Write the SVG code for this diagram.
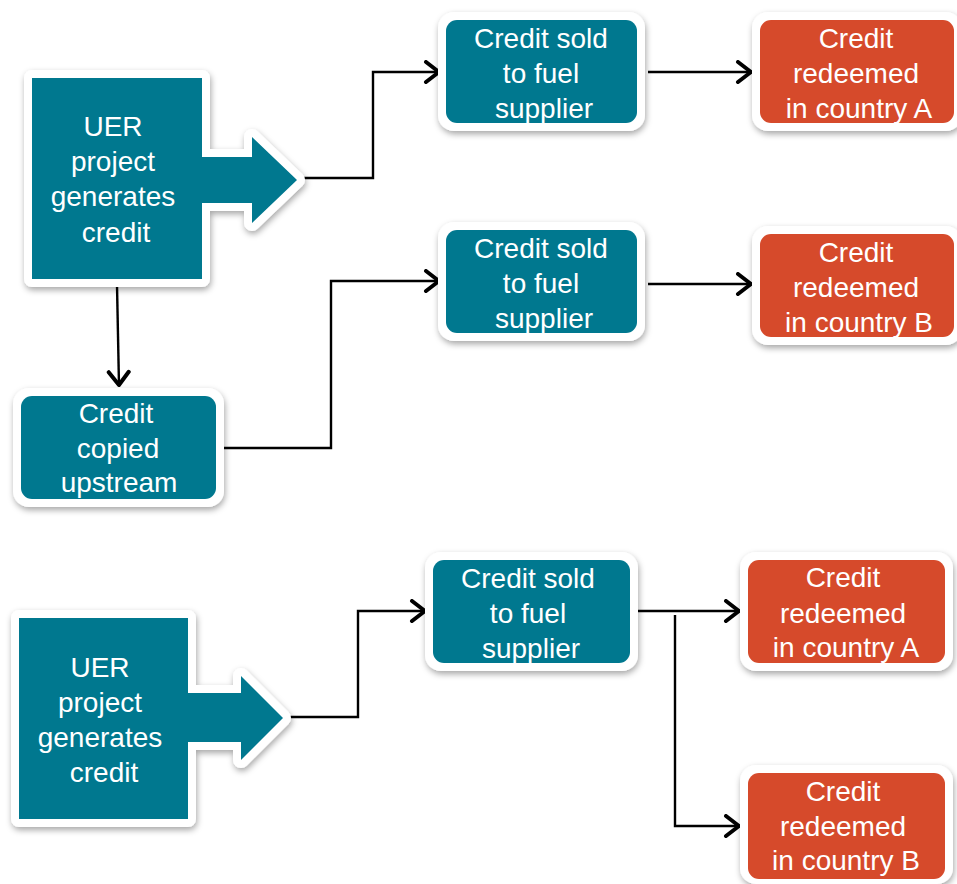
<svg xmlns="http://www.w3.org/2000/svg" width="957" height="884" viewBox="0 0 957 884">
<defs>
<filter id="sh" x="-20%" y="-20%" width="140%" height="140%">
<feDropShadow dx="1" dy="3" stdDeviation="3" flood-color="#000" flood-opacity="0.35"/>
</filter>
<marker id="ah" markerUnits="userSpaceOnUse" markerWidth="30" markerHeight="30" refX="21" refY="12" orient="auto">
<path d="M7,2 L20,12 L7,22" fill="none" stroke="#000" stroke-width="4" stroke-linecap="round" stroke-linejoin="round"/>
</marker>
</defs>
<style>
.teal{fill:#00788F}
.orange{fill:#D64A2B}
.frame{fill:#fff;filter:url(#sh)}
.shape{stroke:#fff;stroke-width:16;stroke-linejoin:round;paint-order:stroke;filter:url(#sh)}
.t{font-family:"Liberation Sans",Arial,sans-serif;font-size:28px;fill:#fff;text-anchor:middle}
.c{fill:none;stroke:#000;stroke-width:2.4}
</style>
<rect width="957" height="884" fill="#fff"/>

<g id="connectors">
<polyline class="c" points="300,178 373,178 373,72 440,72" marker-end="url(#ah)"/>
<line class="c" x1="648" y1="72" x2="752" y2="72" marker-end="url(#ah)"/>
<line class="c" x1="117" y1="285" x2="119" y2="386" marker-end="url(#ah)"/>
<polyline class="c" points="222,448 331,448 331,281 440,281" marker-end="url(#ah)"/>
<line class="c" x1="648" y1="284" x2="752" y2="284" marker-end="url(#ah)"/>
<polyline class="c" points="287,717 358,717 358,611 426,611" marker-end="url(#ah)"/>
<line class="c" x1="635" y1="611" x2="740" y2="611" marker-end="url(#ah)"/>
<polyline class="c" points="675,615 675,826 740,826" marker-end="url(#ah)"/>
</g>

<g id="uer1">
<path class="teal shape" d="M32,78 H202 V157 H252 V137 L297,180 L252,223 V203 H202 V279 H32 Z"/>
<text class="t" x="113" y="136">UER</text>
<text class="t" x="113" y="171">project</text>
<text class="t" x="113" y="206">generates</text>
<text class="t" x="116" y="242">credit</text>
</g>

<g id="sold1">
<rect class="frame" x="438" y="12" width="207" height="119" rx="16"/>
<rect class="teal" x="446" y="20" width="191" height="103" rx="11"/>
<text class="t" x="541" y="48">Credit sold</text>
<text class="t" x="541" y="83">to fuel</text>
<text class="t" x="544" y="118">supplier</text>
</g>

<g id="redeemA1">
<rect class="frame" x="752" y="12" width="210" height="119" rx="16"/>
<rect class="orange" x="760" y="20" width="194" height="103" rx="11"/>
<text class="t" x="856" y="48">Credit</text>
<text class="t" x="856" y="83">redeemed</text>
<text class="t" x="859" y="118">in country A</text>
</g>

<g id="sold2">
<rect class="frame" x="438" y="222" width="207" height="119" rx="16"/>
<rect class="teal" x="446" y="230" width="191" height="103" rx="11"/>
<text class="t" x="541" y="258">Credit sold</text>
<text class="t" x="541" y="293">to fuel</text>
<text class="t" x="544" y="328">supplier</text>
</g>

<g id="redeemB1">
<rect class="frame" x="752" y="226" width="210" height="119" rx="16"/>
<rect class="orange" x="760" y="234" width="194" height="103" rx="11"/>
<text class="t" x="856" y="262">Credit</text>
<text class="t" x="856" y="297">redeemed</text>
<text class="t" x="859" y="332">in country B</text>
</g>

<g id="copied">
<rect class="frame" x="13" y="388" width="211" height="119" rx="16"/>
<rect class="teal" x="21" y="396" width="195" height="103" rx="11"/>
<text class="t" x="116" y="423">Credit</text>
<text class="t" x="118" y="458">copied</text>
<text class="t" x="119" y="492">upstream</text>
</g>

<g id="uer2">
<path class="teal shape" d="M19,618 H188 V693 H241 V676 L283,718 L241,760 V742 H188 V819 H19 Z"/>
<text class="t" x="100" y="677">UER</text>
<text class="t" x="100" y="712">project</text>
<text class="t" x="100" y="747">generates</text>
<text class="t" x="104" y="782">credit</text>
</g>

<g id="sold3">
<rect class="frame" x="425" y="552" width="213" height="119" rx="16"/>
<rect class="teal" x="433" y="560" width="197" height="103" rx="11"/>
<text class="t" x="528" y="588">Credit sold</text>
<text class="t" x="528" y="623">to fuel</text>
<text class="t" x="531" y="658">supplier</text>
</g>

<g id="redeemA2">
<rect class="frame" x="740" y="552" width="213" height="119" rx="16"/>
<rect class="orange" x="748" y="560" width="197" height="103" rx="11"/>
<text class="t" x="843" y="587">Credit</text>
<text class="t" x="843" y="623">redeemed</text>
<text class="t" x="846" y="657">in country A</text>
</g>

<g id="redeemB2">
<rect class="frame" x="740" y="765" width="213" height="119" rx="16"/>
<rect class="orange" x="748" y="773" width="197" height="106" rx="11"/>
<text class="t" x="843" y="801">Credit</text>
<text class="t" x="843" y="836">redeemed</text>
<text class="t" x="846" y="870">in country B</text>
</g>
</svg>
